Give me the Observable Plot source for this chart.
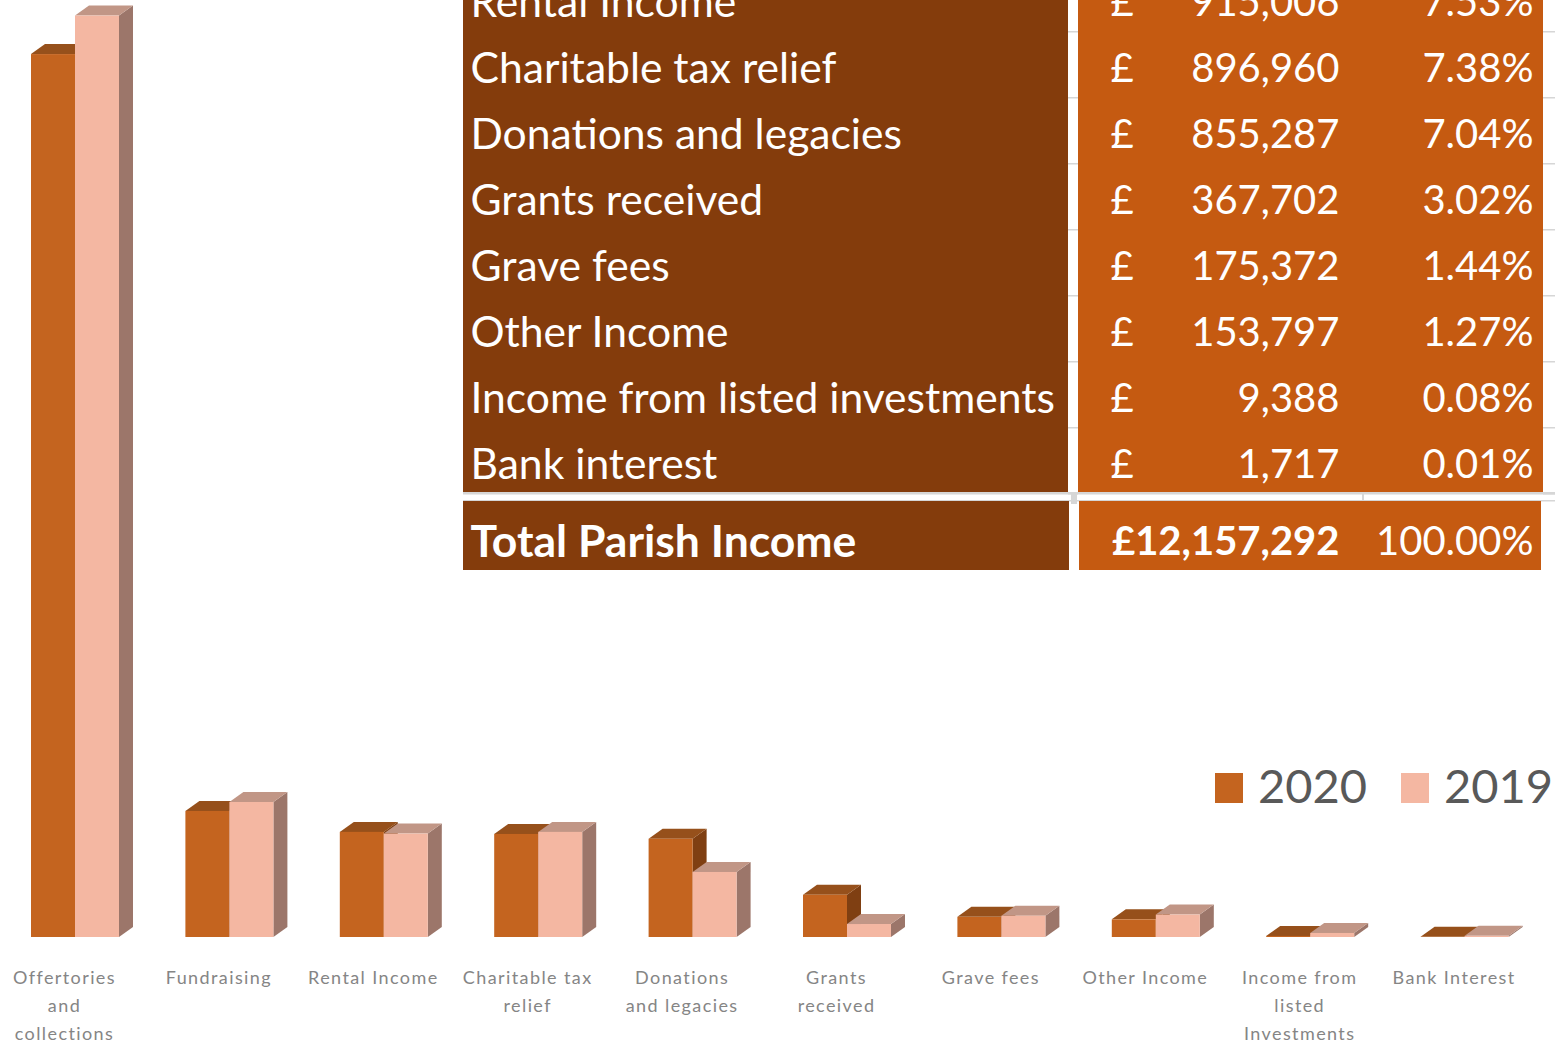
<!DOCTYPE html>
<html><head><meta charset="utf-8">
<script src="https://cdn.jsdelivr.net/npm/d3@7"></script>
<script src="https://cdn.jsdelivr.net/npm/@observablehq/plot@0.6"></script>
<style>
html,body{margin:0;padding:0;background:#fff;overflow:hidden}
#wrap{position:relative;width:1555px;height:1044px;overflow:hidden}
#wrap > svg{position:absolute;left:0;top:0}
#main text{letter-spacing:1.4px}
</style></head><body><div id="wrap"></div>
<script>
// ---------- data ----------
const categories = ["Offertories and collections","Fundraising","Rental Income","Charitable tax relief","Donations and legacies","Grants received","Grave fees","Other Income","Income from listed Investments","Bank Interest"];
const axisLabels = ["Offertories\nand\ncollections","Fundraising","Rental Income","Charitable tax\nrelief","Donations\nand legacies","Grants\nreceived","Grave fees","Other Income","Income from\nlisted\nInvestments","Bank Interest"];
const values2020 = [7685000, 1097000, 915006, 896960, 855287, 367702, 175372, 153797, 9388, 1717];
const values2019 = [8020000, 1175000, 900000, 915000, 566000, 113000, 185000, 195000, 35000, 10000];
const years = ["2020", "2019"];

const tableRows = ["Rental Income","Charitable tax relief","Donations and legacies","Grants received","Grave fees","Other Income","Income from listed investments","Bank interest"];
const tableAmounts = [915006, 896960, 855287, 367702, 175372, 153797, 9388, 1717];
const tablePercents = ["7.53%","7.38%","7.04%","3.02%","1.44%","1.27%","0.08%","0.01%"];
const totalLabel = "Total Parish Income";
const totalAmount = 12157292;
const totalPercent = "100.00%";

// ---------- styles / layout ----------
const colors = {
  "2020": {front:"#c4641f", top:"#96501b", side:"#7f3f12"},
  "2019": {front:"#f4b7a2", top:"#c19686", side:"#9c766a"}
};
const W = 1555, H = 1044;
const baseY = 937, unitsPerPx = 8704;
const step = 154.4;
const xRange = [64 - step / 2, 64 - step / 2 + step * categories.length];
const barW = 44, depthX = 14, depthY = -10;
const offs = {"2020": -33, "2019": 11};
const font = "Lato, 'Open Sans', sans-serif";

const bars = categories.map((c, i) => ({category: c, label: axisLabels[i], "2020": values2020[i], "2019": values2019[i]}));

function faces(year) {
  return (index, scales) => {
    const x = scales.x, y = scales.y;
    const g = d3.create("svg:g");
    for (const d of bars) {
      const c = x(d.category) + step / 2;
      const x1 = c + offs[year], x2 = x1 + barW;
      const y0 = y(0), yt = y(d[year]);
      g.append("polygon")
        .attr("points", [[x2, yt], [x2 + depthX, yt + depthY], [x2 + depthX, y0 + depthY], [x2, y0]].join(" "))
        .attr("fill", colors[year].side);
      g.append("polygon")
        .attr("points", [[x1, yt], [x2, yt], [x2 + depthX, yt + depthY], [x1 + depthX, yt + depthY]].join(" "))
        .attr("fill", colors[year].top);
    }
    return g.node();
  };
}
function front(year) {
  return Plot.barY(bars, {
    x: "category", y: year, fill: colors[year].front,
    insetLeft: step / 2 + offs[year], insetRight: step / 2 - offs[year] - barW
  });
}

const main = Plot.plot({
  width: W, height: H, margin: 0,
  style: {background: "transparent"},
  x: {type: "band", domain: categories, range: xRange, padding: 0, round: false, axis: null},
  y: {domain: [0, 8e6], range: [baseY, baseY - 8e6 / unitsPerPx], axis: null},
  marks: [
    faces("2020"), front("2020"),
    faces("2019"), front("2019"),
    Plot.text(bars, {x: "category", y: 0, dy: 27, text: "label", lineAnchor: "top",
      fontSize: 18, lineHeight: 28 / 18, fill: "#858585", fontFamily: font})
  ]
});
main.id = "main";

// ---------- table ----------
const tRows = [...tableRows, totalLabel];
const fmt = d3.format(",");
const grid = "#d6d6d6";
const table = Plot.plot({
  width: W, height: 575, margin: 0,
  style: {background: "transparent"},
  x: {type: "linear", domain: [0, W], range: [0, W], axis: null},
  y: {type: "band", domain: tRows, range: [-35, -35 + 66 * tRows.length], padding: 0, round: false, axis: null},
  marks: [
    Plot.barX(tableRows, {y: d => d, x1: 463, x2: 1068, fill: "#843c0c"}),
    Plot.barX(tableRows, {y: d => d, x1: 1078, x2: 1543, fill: "#c55a11"}),
    // grid lines at row boundaries
    Plot.barX(tRows, {y: d => d, x1: 1068, x2: 1078, fill: grid, insetBottom: 64.5}),
    Plot.barX(tRows, {y: d => d, x1: 1543, x2: W, fill: grid, insetBottom: 64.5}),
    Plot.barX([totalLabel], {y: d => d, x1: 463, x2: W, fill: grid, insetBottom: 64.5, insetTop: -1}),
    Plot.barX([totalLabel], {y: d => d, x1: 463, x2: W, fill: grid, insetBottom: 64.5, dy: 7}),
    Plot.barX([totalLabel], {y: d => d, x1: 1362, x2: 1364, fill: grid, insetBottom: 58}),
    Plot.barX([totalLabel], {y: d => d, x1: 1071, x2: 1077, fill: grid, insetBottom: 55}),
    // total row
    Plot.barX([totalLabel], {y: d => d, x1: 463, x2: 1069, fill: "#843c0c", dy: 8, insetBottom: -3}),
    Plot.barX([totalLabel], {y: d => d, x1: 1079, x2: 1541, fill: "#c55a11", dy: 8, insetBottom: -3}),
    // texts
    Plot.text(tableRows, {y: d => d, x: 470, text: d => d, textAnchor: "start", fill: "white", fontSize: 42.6, dy: 5, fontFamily: font}),
    Plot.text(tableRows, {y: d => d, x: 1110, text: () => "£", textAnchor: "start", fill: "white", fontSize: 40, dy: 5, fontFamily: font}),
    Plot.text(tableRows, {y: d => d, x: 1339, text: (d, i) => fmt(tableAmounts[i]), textAnchor: "end", fill: "white", fontSize: 40, dy: 5, fontFamily: font}),
    Plot.text(tableRows, {y: d => d, x: 1533, text: (d, i) => tablePercents[i], textAnchor: "end", fill: "white", fontSize: 40, dy: 5, fontFamily: font}),
    Plot.text([totalLabel], {y: d => d, x: 470, text: d => d, textAnchor: "start", fill: "white", fontSize: 44.5, fontWeight: "bold", dy: 16, fontFamily: font}),
    Plot.text([totalLabel], {y: d => d, x: 1339, text: () => "£" + fmt(totalAmount), textAnchor: "end", fill: "white", fontSize: 40, fontWeight: "bold", dy: 16, fontFamily: font}),
    Plot.text([totalLabel], {y: d => d, x: 1533, text: () => totalPercent, textAnchor: "end", fill: "white", fontSize: 40, dy: 16, fontFamily: font})
  ]
});

// ---------- legend ----------
const legend = d3.create("svg").attr("width", W).attr("height", H).style("pointer-events", "none");
const legendPos = {"2020": {sq: 1215, tx: 1258}, "2019": {sq: 1401, tx: 1444}};
for (const yr of years) {
  legend.append("rect").attr("x", legendPos[yr].sq).attr("y", 773).attr("width", 28).attr("height", 30).attr("fill", colors[yr].front);
  legend.append("text").attr("x", legendPos[yr].tx).attr("y", 803).text(yr)
    .attr("fill", "#595959").attr("font-size", 47).attr("font-family", font);
}

const wrap = document.getElementById("wrap");
wrap.append(main, table, legend.node());
</script></body></html>
